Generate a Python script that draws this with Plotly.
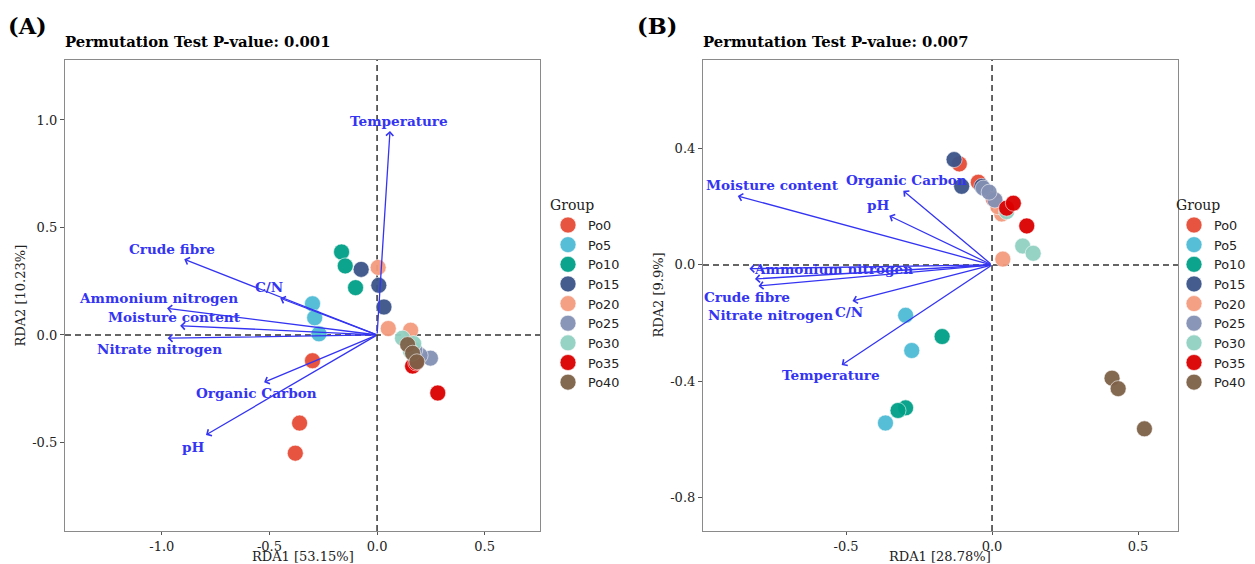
import plotly.graph_objects as go

groups = ["Po0", "Po5", "Po10", "Po15", "Po20", "Po25", "Po30", "Po35", "Po40"]
colors = ["#E64B35", "#4DBBD5", "#00A087", "#3C5488", "#F39B7F",
          "#8491B4", "#91D1C2", "#DC0000", "#7E6148"]

# Panel A sample scores
a_rda1 = [[-0.30, -0.36, -0.38], [-0.30, -0.29, -0.27], [-0.165, -0.148, -0.10],
          [-0.074, 0.008, 0.032], [0.005, 0.052, 0.156], [0.248, 0.20, 0.175],
          [0.118, 0.17, 0.155], [0.165, 0.282, 0.18], [0.142, 0.165, 0.185]]
a_rda2 = [[-0.12, -0.41, -0.55], [0.145, 0.08, 0.005], [0.386, 0.321, 0.22],
          [0.305, 0.231, 0.13], [0.314, 0.03, 0.022], [-0.108, -0.095, -0.07],
          [-0.015, -0.04, -0.075], [-0.145, -0.27, -0.13], [-0.045, -0.085, -0.125]]

# Panel B sample scores
b_rda1 = [[-0.112, -0.047, 0.005], [-0.296, -0.275, -0.365], [-0.171, -0.296, -0.322],
          [-0.13, -0.104, -0.035], [0.033, 0.037, 0.02], [-0.03, 0.01, -0.01],
          [0.05, 0.105, 0.141], [0.05, 0.073, 0.119], [0.411, 0.432, 0.522]]
b_rda2 = [[0.347, 0.284, 0.226], [-0.173, -0.294, -0.543], [-0.246, -0.491, -0.50],
          [0.362, 0.27, 0.27], [0.175, 0.02, 0.2], [0.264, 0.223, 0.25],
          [0.183, 0.065, 0.04], [0.195, 0.212, 0.134], [-0.389, -0.425, -0.563]]

# Environmental vectors
variables = ["Temperature", "Crude fibre", "C/N", "Ammonium nitrogen",
             "Moisture content", "Nitrate nitrogen", "Organic Carbon", "pH"]
a_vec_x = [0.060, -0.896, -0.45, -0.976, -0.915, -0.973, -0.525, -0.795]
a_vec_y = [0.949, 0.352, 0.171, 0.124, 0.043, -0.015, -0.22, -0.465]
b_vec_x = [-0.515, -0.812, -0.478, -0.831, -0.871, -0.80, -0.304, -0.352]
b_vec_y = [-0.344, -0.048, -0.124, -0.013, 0.237, -0.072, 0.255, 0.169]

# label pixel offsets from arrow tips (layout)
a_lab_off = [(9, 10), (-12, 10), (-11, 11), (-9, 10), (-6, 9), (-8, -11), (-8, -11), (-12, -12)]
b_lab_off = [(-11, -10), (-8, -18), (-3, -11), (84, 0), (35, 11), (12, -29), (3, 11), (-11, 11)]

titles = ["Permutation Test P-value: 0.001", "Permutation Test P-value: 0.007"]
panel_tags = ["(A)", "(B)"]
xlabels = ["RDA1 [53.15%]", "RDA1 [28.78%]"]
ylabels = ["RDA2 [10.23%]", "RDA2 [9.9%]"]
a_xticks = [-1.0, -0.5, 0.0, 0.5]
a_yticks = [-0.5, 0.0, 0.5, 1.0]
b_xticks = [-0.5, 0.0, 0.5]
b_yticks = [-0.8, -0.4, 0.0, 0.4]

# page has an 8px body margin: figure size = window - 8
OFF = 8
W, H = 1255 - OFF, 564 - OFF
def px(rx):
    return (rx - OFF) / W
def py(ry):
    return 1 - (ry - OFF) / H

SERIF = "DejaVu Serif"
SANS = "DejaVu Sans"
ARROW = "#3434F2"

fig = go.Figure()

for i, g in enumerate(groups):
    fig.add_trace(go.Scatter(
        x=a_rda1[i], y=a_rda2[i], mode="markers", name=g,
        marker=dict(size=16, color=colors[i], opacity=0.95,
                    line=dict(color="white", width=0.6)),
        xaxis="x", yaxis="y", legend="legend", showlegend=True))
for i, g in enumerate(groups):
    fig.add_trace(go.Scatter(
        x=b_rda1[i], y=b_rda2[i], mode="markers", name=g,
        marker=dict(size=16, color=colors[i], opacity=0.95,
                    line=dict(color="white", width=0.6)),
        xaxis="x2", yaxis="y2", legend="legend2", showlegend=True))

annotations = []
for vx, vy, offs, xr, yr in [(a_vec_x, a_vec_y, a_lab_off, "x", "y"),
                             (b_vec_x, b_vec_y, b_lab_off, "x2", "y2")]:
    for k, name in enumerate(variables):
        annotations.append(dict(
            x=vx[k], y=vy[k], xref=xr, yref=yr, text="<b>%s</b>" % name,
            showarrow=False, xshift=offs[k][0], yshift=offs[k][1],
            font=dict(family=SERIF, size=13.6, color=ARROW)))
    for k, name in enumerate(variables):
        annotations.append(dict(
            x=vx[k], y=vy[k], xref=xr, yref=yr, ax=0, ay=0, axref=xr, ayref=yr,
            text="", showarrow=True, arrowhead=4, arrowsize=1.1, arrowwidth=1.3,
            arrowcolor=ARROW, standoff=0))

dom_a = [px(65), px(540)]
dom_b = [px(703), px(1178)]
ydom = [py(531), py(60)]

for d, t, tag, tagx, xl, yl in [(dom_a, titles[0], panel_tags[0], 8, xlabels[0], ylabels[0]),
                                (dom_b, titles[1], panel_tags[1], 637, xlabels[1], ylabels[1])]:
    annotations.append(dict(x=d[0], y=py(42), xref="paper", yref="paper",
                            text="<b>%s</b>" % t, showarrow=False, xanchor="left",
                            yanchor="middle", xshift=-2,
                            font=dict(family=SERIF, size=14.8, color="black")))
    annotations.append(dict(x=px(tagx), y=py(26), xref="paper", yref="paper",
                            text="<b>%s</b>" % tag, showarrow=False, xanchor="left",
                            yanchor="middle", xshift=-2,
                            font=dict(family=SERIF, size=22.5, color="black")))
    annotations.append(dict(x=(d[0] + d[1]) / 2, y=py(556), xref="paper", yref="paper",
                            text=xl, showarrow=False, xanchor="center", yanchor="middle",
                            font=dict(family=SERIF, size=13, color="#222222")))
    annotations.append(dict(x=d[0] - 45 / W, y=(ydom[0] + ydom[1]) / 2, xref="paper",
                            yref="paper", text=yl, showarrow=False, textangle=-90,
                            xanchor="center", yanchor="middle",
                            font=dict(family=SERIF, size=13, color="#222222")))

shapes = []
for xr, yr in [("x", "y"), ("x2", "y2")]:
    shapes.append(dict(type="line", xref=xr, yref=yr + " domain", x0=0, x1=0, y0=0, y1=1,
                       line=dict(color="#333333", width=1.5, dash="6px,4px"), layer="below"))
    shapes.append(dict(type="line", xref=xr + " domain", yref=yr, x0=0, x1=1, y0=0, y1=0,
                       line=dict(color="#333333", width=1.5, dash="6px,4px"), layer="below"))

def axis(dom, rng, ticks, anchor, ticklen):
    return dict(domain=dom, range=rng, anchor=anchor, showgrid=False, zeroline=False,
                showline=True, mirror=True, linecolor="#8a8a8a", linewidth=1.2,
                ticks="outside", ticklen=ticklen, tickcolor="#555555", automargin=False,
                tickvals=ticks, ticktext=[("%.1f" % t) for t in ticks],
                tickfont=dict(family=SERIF, size=13, color="#222222"))

legend_common = dict(
    xanchor="left", yanchor="top", bgcolor="rgba(0,0,0,0)",
    font=dict(family=SANS, size=12.8, color="#222222"),
    title=dict(text="Group", font=dict(family=SERIF, size=14, color="#222222")),
    tracegroupgap=0, itemsizing="trace")

fig.update_layout(
    width=W, height=H, margin=dict(l=0, r=0, t=0, b=0, autoexpand=False),
    plot_bgcolor="white", paper_bgcolor="white",
    xaxis=axis(dom_a, [-1.45, 0.757], a_xticks, "y", 3),
    yaxis=axis(ydom, [-0.912, 1.279], a_yticks, "x", 4),
    xaxis2=axis(dom_b, [-0.99, 0.637], b_xticks, "y2", 3),
    yaxis2=axis(ydom, [-0.914, 0.704], b_yticks, "x2", 4),
    legend=dict(x=px(548), y=py(192), **legend_common),
    legend2=dict(x=px(1174), y=py(192), **legend_common),
    annotations=annotations, shapes=shapes, showlegend=True,
)

fig.write_html("out.html")
